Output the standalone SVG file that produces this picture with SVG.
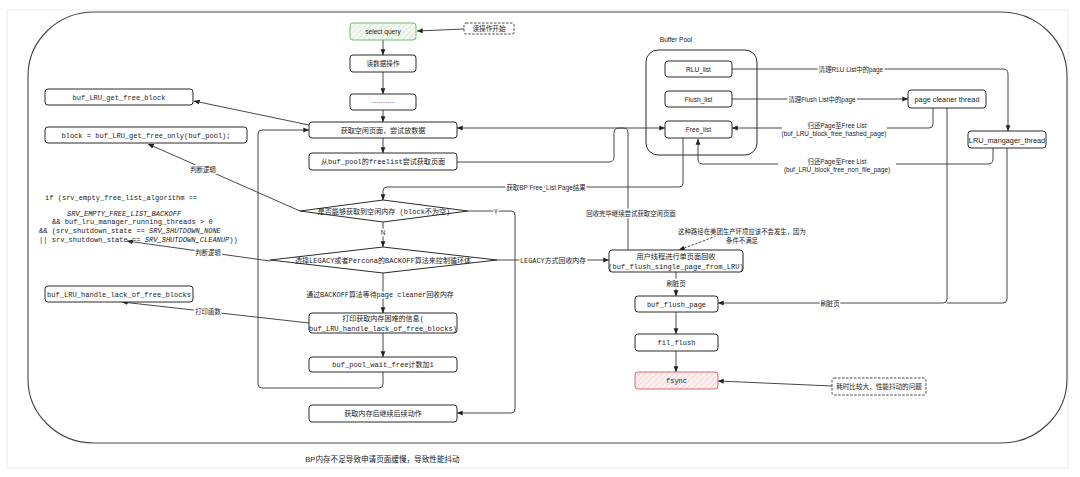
<svg xmlns="http://www.w3.org/2000/svg" width="1080" height="477" viewBox="0 0 1080 477">
<defs>
<style>
.box{fill:#fff;stroke:#2a2a2a;stroke-width:1}
.ln{fill:none;stroke:#333;stroke-width:0.9}
.dash{stroke-dasharray:2.5 1.5}
.t{font-family:"Liberation Sans","Noto Sans CJK SC",sans-serif;font-size:6.6px;fill:#222;text-anchor:middle}
.m{font-family:"Liberation Mono","Noto Sans CJK SC",monospace;font-size:7.05px;fill:#222}
.c{text-anchor:middle}
.lb{font-family:"Liberation Sans","Noto Sans CJK SC",sans-serif;font-size:6.4px;fill:#222;text-anchor:middle;paint-order:stroke;stroke:#fff;stroke-width:3px;stroke-linejoin:round}
.lbm{font-family:"Liberation Mono","Noto Sans CJK SC",monospace;font-size:6.9px;fill:#222;text-anchor:middle;paint-order:stroke;stroke:#fff;stroke-width:3px;stroke-linejoin:round}
.i{font-style:italic}
</style>
<marker id="a" viewBox="0 0 10 10" refX="9.5" refY="5" markerWidth="6" markerHeight="6" orient="auto" markerUnits="userSpaceOnUse"><path d="M0,1 L10,5 L0,9 z" fill="#222"/></marker>
<pattern id="hg" width="4" height="4" patternUnits="userSpaceOnUse" patternTransform="rotate(45)"><rect width="4" height="4" fill="#f3faf1"/><line x1="0" y1="0" x2="0" y2="4" stroke="#bfe0b8" stroke-width="1"/></pattern>
<pattern id="hr" width="4" height="4" patternUnits="userSpaceOnUse" patternTransform="rotate(45)"><rect width="4" height="4" fill="#fdf0f0"/><line x1="0" y1="0" x2="0" y2="4" stroke="#f2b8b8" stroke-width="1"/></pattern>
</defs>
<rect width="1080" height="477" fill="#fff"/>
<rect x="7" y="10" width="1061" height="458" fill="none" stroke="#ececec" stroke-width="1"/>
<rect x="28" y="12" width="1039" height="431" rx="66" ry="64" fill="none" stroke="#444" stroke-width="1.1"/>
<text class="t" x="382.5" y="462" style="font-size:7.6px">BP内存不足导致申请页面缓慢，导致性能抖动</text>

<g id="connectors">
<path class="ln" d="M464,29 L417,31" marker-end="url(#a)"/>
<path class="ln" d="M383,40 L383,55" marker-end="url(#a)"/>
<path class="ln" d="M383,72 L383,94" marker-end="url(#a)"/>
<path class="ln" d="M383,110 L383,122" marker-end="url(#a)"/>
<path class="ln" d="M383,138 L383,153" marker-end="url(#a)"/>
<path class="ln" d="M309,125 L194,101" marker-end="url(#a)"/>
<path class="ln" d="M383,372 L383,384 Q383,388 379,388 L262,388 Q258,388 258,384 L258,134 Q258,130 262,130 L309,130" marker-end="url(#a)"/>
<path class="ln" d="M457,162 L609,162 Q614,162 614,157 L614,133 Q614,128 619,128 L665,128" marker-end="url(#a)"/>
<path class="ln" d="M628,250 L628,133 Q628,128 623,128 L457,128" marker-end="url(#a)"/>
<path class="ln" d="M683,138 L683,183 Q683,187 679,187 L387,187 Q383,187 383,191 L383,200" marker-end="url(#a)"/>
<path class="ln" d="M468,211 L511,211 Q515,211 515,215 L515,409 Q515,413 511,413 L457,413" marker-end="url(#a)"/>
<path class="ln" d="M383,222 L383,247" marker-end="url(#a)"/>
<path class="ln" d="M383,273 L383,313" marker-end="url(#a)"/>
<path class="ln" d="M383,333 L383,357" marker-end="url(#a)"/>
<path class="ln" d="M300,211 L148,144" marker-end="url(#a)"/>
<path class="ln" d="M270,261 L127,241" marker-end="url(#a)"/>
<path class="ln" d="M309,323 L122,302" marker-end="url(#a)"/>
<path class="ln" d="M497,260 L609,260" marker-end="url(#a)"/>
<path class="ln dash" d="M735,229 L679,250" marker-end="url(#a)"/>
<path class="ln" d="M676,272 L676,296" marker-end="url(#a)"/>
<path class="ln" d="M676,312 L676,334" marker-end="url(#a)"/>
<path class="ln" d="M676,351 L676,372" marker-end="url(#a)"/>
<path class="ln" d="M832,386 L718,381" marker-end="url(#a)"/>
<path class="ln" d="M732,69 L1003,69 Q1008,69 1008,74 L1008,131" marker-end="url(#a)"/>
<path class="ln" d="M732,99 L908,99" marker-end="url(#a)"/>
<path class="ln" d="M933,108 L933,124 Q933,128 929,128 L732,128" marker-end="url(#a)"/>
<path class="ln" d="M993,148 L993,159 Q993,164 988,164 L703,164 Q698,164 698,159 L698,139" marker-end="url(#a)"/>
<path class="ln" d="M947,108 L947,299 Q947,303 943,303 L718,303" marker-end="url(#a)"/>
<path class="ln" d="M1007,148 L1007,299 Q1007,303 1003,303 L947,303"/>
<rect x="782" y="121" width="105" height="16" fill="#fff"/>
<rect x="778" y="156" width="118" height="17" fill="#fff"/>
<text class="lb" x="631" y="216">回收完毕继续尝试获取空闲页面</text>
<text class="lb" x="546" y="189.5">获取BP Free_List Page结果</text>
<text class="lb" x="496" y="213.5">Y</text>
<text class="lb" x="383" y="235">N</text>
<text class="lbm" x="380" y="297">通过BACKOFF算法等待page cleaner回收内存</text>
<text class="lb" x="203" y="172">判断逻辑</text>
<text class="lb" x="208" y="255">判断逻辑</text>
<text class="lb" x="208" y="314">打印函数</text>
<text class="lbm" x="553" y="262.5">LEGACY方式回收内存</text>
<text class="lb" x="676" y="285.5">刷脏页</text>
<text class="lb" x="851" y="72">清理RLU List中的page</text>
<text class="lb" x="822" y="101.5">清理Flush List中的page</text>
<text class="lb" x="837" y="128">归还Page至Free List</text>
<text class="lb" x="834" y="136">(buf_LRU_block_free_hashed_page)</text>
<text class="lb" x="837" y="163.5">归还Page至Free List</text>
<text class="lb" x="837" y="171.5">(buf_LRU_block_free_non_file_page)</text>
<text class="lb" x="830" y="305.5">刷脏页</text>
<text class="lb" x="742" y="234">这种路径在美团生产环境应该不会发生，因为</text>
<text class="lb" x="742" y="242.5">条件不满足</text>
</g>

<g id="select_query"><rect x="350" y="23" width="66" height="17" rx="3" fill="url(#hg)" stroke="#72bd6e" stroke-width="1"/><text class="t" x="383" y="34">select query</text></g>
<g id="note_start"><rect x="464" y="23" width="50" height="11" rx="2" fill="#fff" stroke="#333" stroke-width="0.9" class="dash"/><text class="t" x="489" y="31">读操作开始</text></g>
<g id="read_data"><rect class="box" x="350" y="55" width="66" height="17" rx="3"/><text class="t" x="383" y="66">读数据操作</text></g>
<g id="dots"><rect class="box" x="350" y="94" width="66" height="16" rx="3"/><text class="t" x="383" y="103">.............</text></g>
<g id="get_free_page"><rect class="box" x="309" y="122" width="148" height="16" rx="3"/><text class="m c" x="383" y="132.5">获取空闲页面，尝试放数据</text></g>
<g id="from_freelist"><rect class="box" x="309" y="153" width="148" height="17" rx="3"/><text class="m c" x="383" y="164">从buf_pool的freelist尝试获取页面</text></g>
<g id="diamond1"><polygon class="box" points="300,211 383,200 468,211 383,222"/><text class="m c" x="384" y="213.5">是否能够获取到空闲内存 (block不为空)</text></g>
<g id="diamond2"><polygon class="box" points="270,260 383,247 497,260 383,273"/><text class="m c" x="383" y="262.5">选择LEGACY或者Percona的BACKOFF算法来控制循环体</text></g>
<g id="print_info"><rect class="box" x="309" y="313" width="148" height="20" rx="3"/><text class="m c" x="383" y="321">打印获取内存困难的信息(</text><text class="m c" x="383" y="330.5">buf_LRU_handle_lack_of_free_blocks)</text></g>
<g id="wait_free"><rect class="box" x="309" y="357" width="148" height="15" rx="3"/><text class="m c" x="383" y="367">buf_pool_wait_free计数加1</text></g>
<g id="continue"><rect class="box" x="309" y="405" width="148" height="17" rx="3"/><text class="m c" x="383" y="416">获取内存后继续后续动作</text></g>
<g id="get_free_block"><rect class="box" x="45" y="89" width="148" height="16" rx="3"/><text class="m c" x="119" y="99.5">buf_LRU_get_free_block</text></g>
<g id="get_free_only"><rect class="box" x="45" y="127" width="202" height="16" rx="3"/><text class="m c" x="146" y="137.5">block = buf_LRU_get_free_only(buf_pool);</text></g>
<g id="condition_code">
<text class="m" x="45" y="200">if (srv_empty_free_list_algorithm ==</text>
<text class="m i" x="67" y="215.5">SRV_EMPTY_FREE_LIST_BACKOFF</text>
<text class="m" x="52" y="224">&amp;&amp; buf_lru_manager_running_threads &gt; 0</text>
<text class="m" x="39" y="232.5">&amp;&amp; (srv_shutdown_state == <tspan class="i">SRV_SHUTDOWN_NONE</tspan></text>
<text class="m" x="39" y="241.5">|| srv_shutdown_state == <tspan class="i">SRV_SHUTDOWN_CLEANUP</tspan>))</text>
</g>
<g id="lack_blocks"><rect class="box" x="45" y="286" width="148" height="16" rx="3"/><text class="m c" x="119" y="296.5">buf_LRU_handle_lack_of_free_blocks</text></g>
<g id="buffer_pool"><rect x="646" y="50" width="111" height="105" rx="12" fill="none" stroke="#2a2a2a" stroke-width="1"/><text class="t" x="676" y="42">Buffer Pool</text></g>
<g id="rlu_list"><rect class="box" x="665" y="61" width="67" height="16" rx="3"/><text class="t" x="698.5" y="71.5">RLU_list</text></g>
<g id="flush_list"><rect class="box" x="665" y="91" width="67" height="16" rx="3"/><text class="t" x="698.5" y="101.5">Flush_list</text></g>
<g id="free_list"><rect class="box" x="665" y="121" width="67" height="17" rx="3"/><text class="t" x="698.5" y="132">Free_list</text></g>
<g id="page_cleaner"><rect class="box" x="908" y="90" width="78" height="18" rx="3"/><text class="t" x="947" y="101.5" style="font-size:7.3px">page cleaner thread</text></g>
<g id="lru_manager"><rect class="box" x="968" y="131" width="78" height="17" rx="3"/><text class="t" x="1007" y="142.5" style="font-size:7.3px">LRU_mangager_thread</text></g>
<g id="user_thread"><rect class="box" x="609" y="250" width="134" height="22" rx="3"/><text class="t" x="676" y="258.5" style="font-size:7.2px">用户线程进行单页面回收</text><text class="m c" x="676" y="268.5">(buf_flush_single_page_from_LRU)</text></g>
<g id="buf_flush_page"><rect class="box" x="635" y="296" width="83" height="16" rx="3"/><text class="m c" x="676.5" y="306.5">buf_flush_page</text></g>
<g id="fil_flush"><rect class="box" x="635" y="334" width="83" height="17" rx="3"/><text class="m c" x="676.5" y="345">fil_flush</text></g>
<g id="fsync"><rect x="635" y="372" width="83" height="17" rx="3" fill="url(#hr)" stroke="#d96b6b" stroke-width="1"/><text class="m c" x="676.5" y="383">fsync</text></g>
<g id="note_cost"><rect x="832" y="378" width="94" height="17" rx="2" fill="#fff" stroke="#333" stroke-width="0.9" class="dash"/><text class="t" x="879" y="389">耗时比较大，性能抖动的问题</text></g>
</svg>
